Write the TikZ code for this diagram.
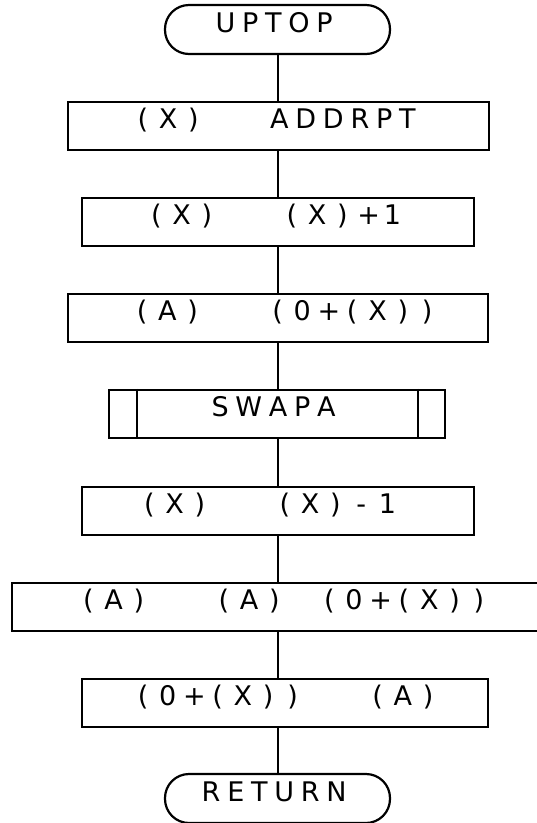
\documentclass[tikz,border=0pt]{standalone}
\usepackage{fontspec}
\setmainfont{DejaVu Sans}
\newdimen\lsp \lsp=6.75pt
\ExplSyntaxOn
\NewDocumentCommand\spaced{m}{\tl_map_inline:nn {#1} {##1\kern\lsp}}
\ExplSyntaxOff
\newcommand{\ag}{\hspace{55pt}}
\newcommand{\og}{\hspace{25pt}}
\newcommand{\lp}{\kern3pt(\kern4pt}
\newcommand{\rp}{\kern4pt)\kern3pt}
\newcommand{\pl}{+\kern-3pt}
\newcommand{\mi}{\kern6pt-\kern6pt}
\begin{document}
\begin{tikzpicture}[x=1pt,y=-1pt,line width=2.2pt,
  box/.style={draw,rectangle,inner sep=0pt,minimum height=48pt,
    text height=26pt,text depth=22pt,font=\fontsize{27}{32}\selectfont},
  term/.style={box,rounded corners=24pt,minimum height=49pt,text height=27pt}]
\useasboundingbox (0,0) rectangle (537,823);
\coordinate (spine) at (278,0);
\node[term,minimum width=225pt] (t1) at (277.5,29.5) {\spaced{UPTOP}};
\node[box,minimum width=421pt] (b1) at (278.5,126) {\spaced{\lp X\rp\ag ADDRPT}};
\node[box,minimum width=392pt] (b2) at (278,222) {\spaced{\lp X\rp\ag\lp X\rp\pl 1}};
\node[box,minimum width=420pt] (b3) at (278,318) {\kern20pt\spaced{\lp A\rp\ag\lp 0\pl\lp X\rp\rp}};
\node[box,minimum width=336pt] (b4) at (277,414) {\spaced{SWAPA}};
\node[box,minimum width=392pt] (b5) at (278,511) {\spaced{\lp X\rp\ag\lp X\rp\mi 1}\kern12pt};
\node[box,minimum width=550pt] (b6) at (287,607) {\spaced{\lp A\rp\ag\lp A\rp\og\lp 0\pl\lp X\rp\rp}};
\node[box,minimum width=406pt] (b7) at (285,703) {\kern8pt\spaced{\lp 0\pl\lp X\rp\rp\ag\lp A\rp}};
\node[term,minimum width=225pt] (t2) at (277.5,798.5) {\spaced{RETURN}};
\draw ([xshift=29pt]b4.north west) -- ([xshift=29pt]b4.south west);
\draw ([xshift=-28pt]b4.north east) -- ([xshift=-28pt]b4.south east);
\foreach \a/\b in {t1/b1,b1/b2,b2/b3,b3/b4,b4/b5,b5/b6,b6/b7,b7/t2}
  \draw (\a.south -| spine) -- (\b.north -| spine);
\end{tikzpicture}
\end{document}
